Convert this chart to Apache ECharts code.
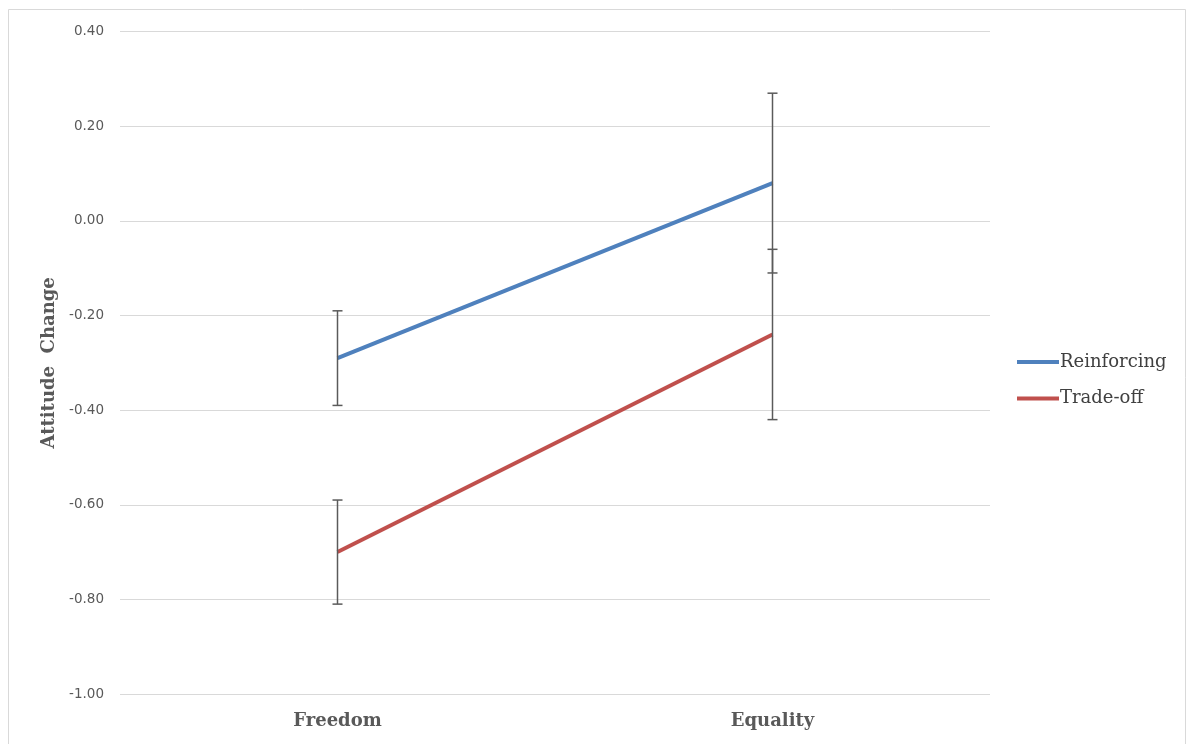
<!DOCTYPE html>
<html>
<head>
<meta charset="utf-8">
<style>
  html, body { margin: 0; padding: 0; background: #fff; }
  #chart { width: 1189px; height: 744px; }
</style>
<script src="https://cdn.jsdelivr.net/npm/echarts@6/dist/echarts.min.js"></script>
</head>
<body>
<div id="chart"></div>
<script>
// Conditions on the x axis
const categories = ['Freedom', 'Equality'];
// Mean attitude change per condition
const reinforcing = [-0.29, 0.08];
const tradeOff = [-0.70, -0.24];
// Error bar half-lengths
const reinforcingErr = [0.10, 0.19];
const tradeOffErr = [0.11, 0.18];
// Value axis ticks
const yMin = -1.0, yMax = 0.4, yStep = 0.2;

const serif = '"DejaVu Serif", "Liberation Serif", serif';
const sans = '"DejaVu Sans", "Liberation Sans", sans-serif';

function errorBarData(means, errs) {
  return means.map((m, i) => [i, m - errs[i], m + errs[i]]);
}

function renderErrorBar(params, api) {
  const low = api.coord([api.value(0), api.value(1)]);
  const high = api.coord([api.value(0), api.value(2)]);
  const half = 5;
  const style = { stroke: '#5a5a5a', lineWidth: 1.5 };
  return {
    type: 'group',
    children: [
      { type: 'line', shape: { x1: low[0], y1: low[1], x2: high[0], y2: high[1] }, style },
      { type: 'line', shape: { x1: low[0] - half, y1: low[1], x2: low[0] + half, y2: low[1] }, style },
      { type: 'line', shape: { x1: high[0] - half, y1: high[1], x2: high[0] + half, y2: high[1] }, style }
    ]
  };
}

const chart = echarts.init(document.getElementById('chart'), null, { renderer: 'canvas' });

chart.setOption({
  backgroundColor: '#ffffff',
  animation: false,
  graphic: [{
    type: 'rect',
    shape: { x: 8.5, y: 9.5, width: 1177, height: 760 },
    style: { fill: 'none', stroke: '#d9d9d9', lineWidth: 1 },
    silent: true,
    z: -10
  }],
  grid: { left: 120, right: 199, top: 31.7, bottom: 50 },
  legend: {
    orient: 'vertical',
    left: 1012,
    top: 347,
    itemWidth: 42,
    itemHeight: 4,
    itemGap: 16.5,
    icon: 'rect',
    data: ['Reinforcing', 'Trade-off'],
    textStyle: { fontFamily: serif, fontSize: 18, color: '#404040', lineHeight: 20, padding: [0, 0, 0, -4] }
  },
  xAxis: {
    type: 'category',
    data: categories,
    boundaryGap: true,
    axisLine: { show: false },
    axisTick: { show: false },
    axisLabel: { margin: 18, fontFamily: serif, fontWeight: 'bold', fontSize: 18, color: '#595959' }
  },
  yAxis: {
    type: 'value',
    min: yMin,
    max: yMax,
    interval: yStep,
    name: 'Attitude  Change',
    nameLocation: 'middle',
    nameRotate: 90,
    nameGap: 62,
    nameTextStyle: { fontFamily: serif, fontWeight: 'bold', fontSize: 18, color: '#595959' },
    axisLine: { show: false },
    axisTick: { show: false },
    splitLine: { lineStyle: { color: '#d9d9d9', width: 1 } },
    axisLabel: {
      margin: 16,
      fontFamily: sans,
      fontSize: 13.5,
      color: '#595959',
      formatter: v => v.toFixed(2)
    }
  },
  series: [
    {
      name: 'Reinforcing',
      type: 'line',
      data: reinforcing,
      showSymbol: false,
      symbol: 'none',
      color: '#4f81bd',
      lineStyle: { width: 4, color: '#4f81bd' },
      z: 2
    },
    {
      name: 'Trade-off',
      type: 'line',
      data: tradeOff,
      showSymbol: false,
      symbol: 'none',
      color: '#c0504d',
      lineStyle: { width: 4, color: '#c0504d' },
      z: 2
    },
    {
      type: 'custom',
      name: 'Reinforcing error',
      renderItem: renderErrorBar,
      data: errorBarData(reinforcing, reinforcingErr),
      encode: { x: 0, y: [1, 2] },
      z: 5
    },
    {
      type: 'custom',
      name: 'Trade-off error',
      renderItem: renderErrorBar,
      data: errorBarData(tradeOff, tradeOffErr),
      encode: { x: 0, y: [1, 2] },
      z: 5
    }
  ]
});
</script>
</body>
</html>
